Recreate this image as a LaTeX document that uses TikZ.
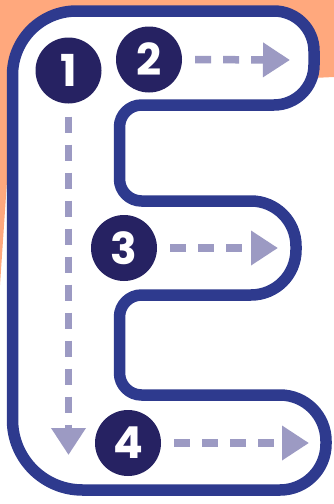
\documentclass[tikz,border=0pt]{standalone}
\usepackage{fontspec}
\setmainfont{Poppins}
\usetikzlibrary{arrows.meta}
\definecolor{salmon}{HTML}{FFA87D}
\definecolor{marco}{HTML}{2E3A8E}
\definecolor{tinta}{HTML}{262262}
\definecolor{lila}{HTML}{9C9AC3}

\begin{document}
\begin{tikzpicture}[x=1pt,y=-1pt,line join=round,
    num/.style={circle,fill=tinta,text=white,minimum size=66pt,inner sep=0pt,
                font=\fontsize{44}{44}\selectfont\bfseries},
    flow/.style={draw=lila,line width=7.5pt,dash pattern=on 16pt off 12pt,
                 shorten <=13pt,-{Triangle[length=27pt,width=33pt]}}]
        \useasboundingbox (0,0) rectangle (334,504);
        % --- fondo naranja ---
        \fill[salmon] (0,0) -- (334,0) -- (334,77) -- (13,92) -- (0,285) -- cycle;
        % --- letra E ---
        \draw[marco,line width=11.5pt,fill=white]
              (12.5,260) [rounded corners=64pt] -- (12.5,11)
              [rounded corners=40pt] -- (314,11)
              [rounded corners=40pt] -- (314,105)
              [rounded corners=22pt] -- (119.5,105)
              [rounded corners=22pt] -- (119.5,201)
              [rounded corners=45pt] -- (296,201)
              [rounded corners=45pt] -- (296,295)
              [rounded corners=22pt] -- (119.5,295)
              [rounded corners=22pt] -- (119.5,395)
              [rounded corners=46pt] -- (326,395)
              [rounded corners=46pt] -- (326,490)
              [rounded corners=70pt] -- (12.5,490)
              -- cycle;
        % --- pasos ---
        \node[num] (c1) at (68.5,70.5) {1};
        \node[num] (c2) at (149,59.5) {2};
        \node[num] (c3) at (124,248) {3};
        \node[num] (c4) at (128,443) {4};
        % --- extremos de las flechas ---
        \coordinate (e1) at (68.5,455);
        \coordinate (e2) at (290,60);
        \coordinate (e3) at (278,248);
        \coordinate (e4) at (309,443);
        % --- flechas ---
        \draw[flow] (c1.south) -- (e1);
        \draw[flow] (c2.east) -- (e2);
        \draw[flow] (c3.east) -- (e3);
        \draw[flow] (c4.east) -- (e4);
      \end{tikzpicture}
\end{document}
